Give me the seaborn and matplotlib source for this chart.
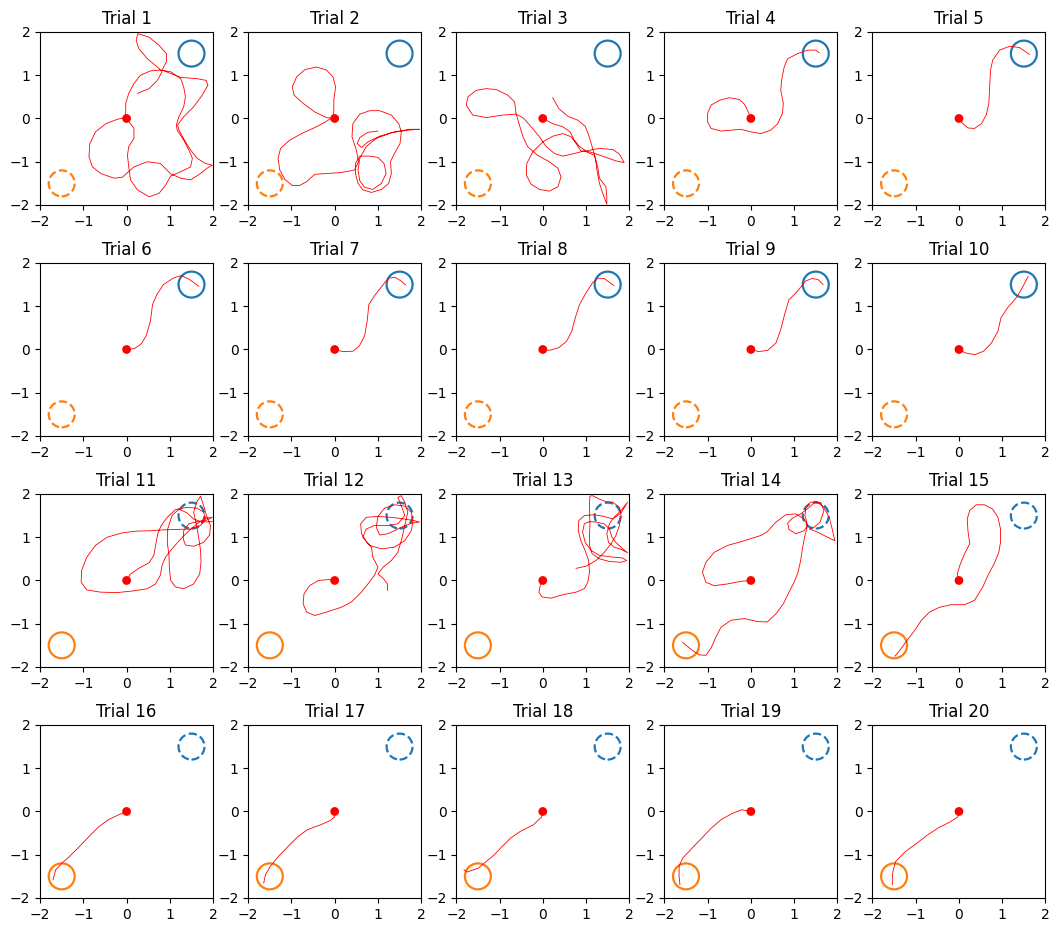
import numpy as np
import pandas as pd
import matplotlib
matplotlib.use("Agg")
import matplotlib.pyplot as plt
from matplotlib.patches import Circle
import seaborn as sns

# ---------------- data ----------------
trial_titles = [f"Trial {i}" for i in range(1, 21)]
start_point = (0.0, 0.0)
target_a = (1.5, 1.5)     # blue target
target_b = (-1.5, -1.5)   # orange target
target_radius = 0.3
# trials 1-10: blue target active (solid), 11-20: orange target active
active_target = ["a"] * 10 + ["b"] * 10

traj_01 = [(0, 0), (0.17, -0.23), (0.17, -0.46), (0.05, -0.65), (0.02, -0.85), (0.05, -1.12), (0.09, -1.42),
           (0.25, -1.65), (0.52, -1.81), (0.75, -1.73), (0.9, -1.54), (1.02, -1.33), (1.25, -1.23), (1.48, -1.12),
           (1.52, -0.92), (1.44, -0.73), (1.32, -0.5), (1.17, -0.27), (1.15, -0.15), (1.21, 0.04), (1.32, 0.27),
           (1.36, 0.5), (1.32, 0.73), (1.25, 0.92), (1.02, 1.08), (0.78, 1.12), (0.55, 1.1), (0.32, 1.0),
           (0.17, 0.81), (0.05, 0.58), (-0.02, 0.35), (-0.02, 0.15), (-0.05, 0.02), (-0.22, -0.02), (-0.48, -0.12),
           (-0.72, -0.31), (-0.85, -0.58), (-0.87, -0.88), (-0.79, -1.12), (-0.6, -1.27), (-0.29, -1.38),
           (-0.1, -1.36), (0.02, -1.25), (0.17, -1.12), (0.48, -1.0), (0.78, -1.04), (1.02, -1.28), (1.25, -1.38),
           (1.48, -1.42), (1.71, -1.27), (1.86, -1.15), (1.98, -1.08), (1.82, -1.04), (1.63, -0.92), (1.48, -0.73),
           (1.36, -0.54), (1.21, -0.27), (1.18, -0.15), (1.32, 0.04), (1.55, 0.27), (1.75, 0.54), (1.88, 0.77),
           (1.84, 0.88), (1.63, 0.92), (1.25, 0.95), (1.02, 1.04), (0.82, 1.12), (0.92, 1.31), (0.92, 1.5),
           (0.75, 1.69), (0.52, 1.88), (0.26, 1.96), (0.22, 1.81), (0.28, 1.62), (0.48, 1.38), (0.71, 1.19),
           (0.82, 1.08), (0.71, 0.88), (0.52, 0.69), (0.25, 0.58)]
traj_02 = [(0, 0), (-0.19, 0.02), (-0.46, 0.15), (-0.73, 0.35), (-0.94, 0.54), (-0.98, 0.73), (-0.88, 0.96),
           (-0.69, 1.13), (-0.42, 1.19), (-0.19, 1.12), (-0.04, 0.96), (0.02, 0.73), (-0.02, 0.42), (-0.02, 0.15),
           (-0.06, 0.02), (-0.23, -0.09), (-0.46, -0.21), (-0.73, -0.33), (-1.04, -0.5), (-1.25, -0.69),
           (-1.31, -0.92), (-1.27, -1.19), (-1.15, -1.41), (-0.98, -1.55), (-0.81, -1.55), (-0.65, -1.46),
           (-0.46, -1.29), (-0.15, -1.27), (0.15, -1.25), (0.46, -1.19), (0.55, -1.0), (0.5, -0.73), (0.4, -0.42),
           (0.42, -0.12), (0.58, 0.1), (0.81, 0.18), (1.04, 0.18), (1.31, 0.08), (1.48, -0.12), (1.54, -0.31),
           (1.51, -0.58), (1.38, -0.81), (1.29, -1.0), (1.31, -1.27), (1.25, -1.5), (1.08, -1.64), (0.85, -1.71),
           (0.65, -1.65), (0.54, -1.5), (0.48, -1.27), (0.48, -1.04), (0.58, -0.87), (0.81, -0.87), (1.0, -0.9),
           (1.14, -1.04), (1.19, -1.27), (1.08, -1.5), (0.88, -1.64), (0.69, -1.59), (0.58, -1.44), (0.54, -1.19),
           (0.58, -0.92), (0.73, -0.65), (0.96, -0.46), (1.31, -0.33), (1.69, -0.27), (1.96, -0.25), (1.73, -0.25),
           (1.38, -0.31), (1.04, -0.41), (0.77, -0.54), (0.62, -0.67), (0.52, -0.58), (0.58, -0.44), (0.77, -0.32),
           (1.0, -0.29)]
traj_03 = [(0, 0), (0.23, -0.12), (0.46, -0.19), (0.63, -0.31), (0.73, -0.5), (0.85, -0.65), (1.0, -0.75),
           (1.31, -0.69), (1.62, -0.72), (1.77, -0.82), (1.88, -1.02), (1.69, -0.98), (1.38, -0.87), (1.08, -0.77),
           (0.88, -0.75), (0.77, -0.58), (0.65, -0.42), (0.46, -0.35), (0.23, -0.41), (0, -0.54), (-0.23, -0.77),
           (-0.37, -1.04), (-0.38, -1.31), (-0.27, -1.52), (-0.08, -1.64), (0.15, -1.68), (0.35, -1.58),
           (0.42, -1.35), (0.35, -1.15), (0.15, -1.0), (-0.12, -0.85), (-0.35, -0.65), (-0.46, -0.42),
           (-0.54, -0.15), (-0.62, 0.12), (-0.65, 0.38), (-0.81, 0.54), (-1.08, 0.67), (-1.31, 0.69), (-1.54, 0.65),
           (-1.73, 0.5), (-1.77, 0.31), (-1.62, 0.08), (-1.31, 0.02), (-0.92, 0.08), (-0.62, 0.1), (-0.46, 0.02),
           (-0.27, -0.19), (-0.08, -0.42), (0.08, -0.65), (0.27, -0.81), (0.46, -0.87), (0.69, -0.82), (0.96, -0.75),
           (1.19, -0.85), (1.27, -1.12), (1.31, -1.38), (1.46, -1.58), (1.48, -1.81), (1.48, -1.98), (1.4, -1.77),
           (1.31, -1.5), (1.25, -1.19), (1.22, -0.92), (1.14, -0.65), (1.06, -0.38), (0.98, -0.18), (0.81, -0.04),
           (0.58, 0.05), (0.37, 0.23), (0.23, 0.48)]
traj_04 = [(0, 0), (-0.06, 0.15), (-0.15, 0.33), (-0.27, 0.44), (-0.5, 0.48), (-0.73, 0.42), (-0.92, 0.31),
           (-1.0, 0.12), (-1.0, -0.08), (-0.92, -0.23), (-0.69, -0.29), (-0.46, -0.27), (-0.23, -0.25), (0, -0.31),
           (0.23, -0.35), (0.46, -0.27), (0.62, -0.12), (0.73, 0.12), (0.75, 0.35), (0.69, 0.65), (0.71, 0.88),
           (0.77, 1.19), (0.85, 1.38), (1.08, 1.5), (1.31, 1.58), (1.5, 1.58), (1.58, 1.52)]
traj_05 = [(0, 0), (0.09, -0.12), (0.21, -0.22), (0.36, -0.23), (0.52, -0.12), (0.63, 0.08), (0.69, 0.35),
           (0.71, 0.73), (0.73, 1.12), (0.78, 1.35), (0.94, 1.58), (1.17, 1.67), (1.4, 1.64), (1.63, 1.48)]
traj_06 = [(0, 0), (0.18, 0.02), (0.33, 0.12), (0.45, 0.31), (0.55, 0.65), (0.6, 1.04), (0.7, 1.27), (0.85, 1.5),
           (1.08, 1.65), (1.26, 1.71), (1.45, 1.62), (1.67, 1.46)]
traj_07 = [(0, 0), (0.19, -0.05), (0.42, -0.04), (0.57, 0.08), (0.69, 0.31), (0.75, 0.65), (0.79, 1.04),
           (0.94, 1.27), (1.09, 1.46), (1.24, 1.65), (1.39, 1.67), (1.54, 1.58), (1.64, 1.49)]
traj_08 = [(0, 0), (0.15, -0.02), (0.37, 0.04), (0.55, 0.19), (0.67, 0.42), (0.75, 0.73), (0.85, 1.04),
           (1.0, 1.31), (1.15, 1.54), (1.27, 1.65), (1.42, 1.64), (1.64, 1.48)]
traj_09 = [(0, 0), (0.18, -0.05), (0.39, -0.02), (0.58, 0.15), (0.69, 0.46), (0.78, 0.81), (0.88, 1.15),
           (1.08, 1.35), (1.26, 1.58), (1.41, 1.64), (1.55, 1.62), (1.67, 1.5)]
traj_10 = [(0, 0), (0.15, -0.08), (0.37, -0.12), (0.57, -0.04), (0.75, 0.15), (0.9, 0.42), (0.97, 0.73),
           (1.12, 0.96), (1.32, 1.19), (1.46, 1.42), (1.6, 1.69)]
traj_11 = [(0, 0), (0.09, 0.15), (0.28, 0.28), (0.52, 0.41), (0.63, 0.58), (0.67, 0.81), (0.72, 1.08),
           (0.8, 1.27), (0.94, 1.46), (1.13, 1.64), (1.4, 1.69), (1.63, 1.67), (1.78, 1.58), (1.82, 1.42),
           (1.71, 1.27), (1.48, 1.19), (1.17, 1.18), (0.86, 1.17), (0.55, 1.15), (0.21, 1.14), (-0.1, 1.1),
           (-0.45, 1.0), (-0.72, 0.81), (-0.92, 0.54), (-1.04, 0.23), (-1.05, -0.04), (-0.92, -0.22), (-0.6, -0.27),
           (-0.22, -0.28), (0.17, -0.24), (0.48, -0.19), (0.67, -0.08), (0.78, 0.12), (0.82, 0.35), (0.9, 0.54),
           (1.05, 0.73), (1.25, 0.96), (1.44, 1.15), (1.63, 1.31), (1.82, 1.44), (1.98, 1.46), (1.82, 1.38),
           (1.63, 1.36), (1.44, 1.31), (1.32, 1.15), (1.31, 0.96), (1.36, 0.82), (1.55, 0.79), (1.78, 0.88),
           (1.92, 1.05), (1.94, 1.27), (1.86, 1.46), (1.78, 1.73), (1.71, 1.95), (1.62, 1.81), (1.55, 1.58),
           (1.62, 1.27), (1.67, 0.96), (1.71, 0.69), (1.72, 0.42), (1.69, 0.15), (1.55, -0.08), (1.32, -0.19),
           (1.13, -0.15), (1.02, 0), (0.99, 0.27), (0.98, 0.58), (0.94, 0.88), (0.95, 1.19), (1.05, 1.5),
           (1.21, 1.65), (1.4, 1.56), (1.55, 1.42), (1.75, 1.35), (1.98, 1.36)]
traj_12 = [(0, 0), (-0.15, 0.02), (-0.38, 0), (-0.58, -0.12), (-0.71, -0.31), (-0.73, -0.54), (-0.65, -0.73),
           (-0.46, -0.81), (-0.19, -0.73), (0.15, -0.62), (0.38, -0.5), (0.58, -0.31), (0.77, -0.08), (0.92, 0.12),
           (1.0, 0.31), (0.88, 0.54), (0.85, 0.77), (0.73, 0.9), (0.62, 1.08), (0.6, 1.31), (0.73, 1.46),
           (1.0, 1.48), (1.31, 1.46), (1.62, 1.42), (1.85, 1.38), (1.96, 1.35), (1.81, 1.33), (1.62, 1.27),
           (1.46, 1.19), (1.23, 1.08), (1.04, 1.05), (0.96, 1.23), (1.0, 1.48), (1.15, 1.67), (1.38, 1.75),
           (1.62, 1.72), (1.77, 1.58), (1.81, 1.38), (1.77, 1.15), (1.62, 0.92), (1.38, 0.77), (1.08, 0.73),
           (0.81, 0.81), (0.65, 1.0), (0.73, 1.19), (0.92, 1.27), (1.23, 1.27), (1.46, 1.31), (1.62, 1.5),
           (1.54, 1.73), (1.46, 1.92), (1.54, 1.96), (1.62, 1.81), (1.69, 1.58), (1.62, 1.27), (1.55, 0.96),
           (1.46, 0.65), (1.31, 0.46), (1.12, 0.31), (1.0, 0.15), (1.12, 0.05), (1.22, -0.08), (1.22, -0.23)]
traj_13 = [(0, 0), (-0.06, -0.12), (-0.09, -0.27), (-0.02, -0.38), (0.19, -0.41), (0.46, -0.33), (0.77, -0.27),
           (0.96, -0.19), (1.04, -0.04), (1.08, 0.19), (1.06, 0.46), (0.98, 0.69), (0.88, 0.92), (0.82, 1.15),
           (0.83, 1.38), (0.96, 1.5), (1.19, 1.52), (1.42, 1.48), (1.62, 1.42), (1.81, 1.56), (1.96, 1.81),
           (1.81, 1.62), (1.65, 1.46), (1.54, 1.31), (1.48, 1.08), (1.52, 0.88), (1.65, 0.77), (1.81, 0.72),
           (1.96, 0.64), (1.85, 0.73), (1.69, 0.88), (1.6, 1.0), (1.54, 1.19), (1.42, 1.31), (1.23, 1.35),
           (1.08, 1.36), (0.96, 1.31), (0.92, 1.12), (0.98, 0.88), (1.12, 0.69), (1.31, 0.58), (1.62, 0.54),
           (1.85, 0.52), (1.94, 0.46), (1.81, 0.42), (1.54, 0.44), (1.31, 0.5), (1.14, 0.62), (1.08, 0.81),
           (1.08, 1.04), (1.09, 1.31), (1.08, 1.58), (1.08, 1.77), (1.09, 1.95), (1.15, 1.96), (1.31, 1.88),
           (1.46, 1.82), (1.62, 1.81), (1.77, 1.69), (1.81, 1.5), (1.77, 1.27), (1.69, 1.04), (1.58, 0.85),
           (1.42, 0.65), (1.23, 0.46), (1.0, 0.33), (0.77, 0.28)]
traj_14 = [(0, 0), (-0.23, -0.02), (-0.54, -0.08), (-0.85, -0.12), (-1.04, -0.04), (-1.12, 0.19), (-1.04, 0.42),
           (-0.85, 0.65), (-0.54, 0.81), (-0.15, 0.92), (0.23, 1.04), (0.38, 1.13), (0.58, 1.35), (0.81, 1.52),
           (1.04, 1.54), (1.23, 1.42), (1.31, 1.27), (1.23, 1.15), (1.04, 1.08), (0.88, 1.18), (0.85, 1.33),
           (0.96, 1.44), (1.15, 1.54), (1.35, 1.69), (1.48, 1.82), (1.62, 1.79), (1.69, 1.62), (1.6, 1.35),
           (1.46, 1.23), (1.35, 1.19), (1.54, 1.12), (1.77, 1.0), (1.94, 0.92), (1.88, 1.19), (1.81, 1.46),
           (1.69, 1.69), (1.54, 1.82), (1.38, 1.81), (1.27, 1.69), (1.25, 1.5), (1.31, 1.27), (1.25, 1.04),
           (1.19, 0.73), (1.15, 0.46), (1.09, 0.19), (1.0, -0.04), (0.88, -0.27), (0.75, -0.54), (0.58, -0.77),
           (0.38, -0.96), (0.15, -0.95), (-0.15, -0.88), (-0.46, -0.92), (-0.69, -1.08), (-0.81, -1.31),
           (-0.92, -1.56), (-1.04, -1.73), (-1.19, -1.72), (-1.35, -1.62), (-1.58, -1.43)]
traj_15 = [(0, 0), (-0.04, 0.15), (0.02, 0.35), (0.13, 0.62), (0.25, 0.85), (0.21, 1.12), (0.19, 1.42),
           (0.25, 1.62), (0.4, 1.75), (0.59, 1.75), (0.78, 1.65), (0.9, 1.46), (0.96, 1.19), (0.96, 0.88),
           (0.92, 0.65), (0.81, 0.38), (0.67, 0.12), (0.55, -0.15), (0.36, -0.46), (0.13, -0.56), (-0.18, -0.56),
           (-0.45, -0.62), (-0.68, -0.73), (-0.87, -0.92), (-1.02, -1.15), (-1.22, -1.41), (-1.37, -1.62),
           (-1.48, -1.75)]
traj_16 = [(0, 0), (-0.19, -0.08), (-0.42, -0.19), (-0.64, -0.35), (-0.87, -0.58), (-1.09, -0.81), (-1.32, -1.04),
           (-1.49, -1.19), (-1.64, -1.35), (-1.7, -1.58)]
traj_17 = [(0, 0), (0, -0.12), (-0.1, -0.21), (-0.33, -0.31), (-0.63, -0.42), (-0.85, -0.58), (-1.08, -0.81),
           (-1.3, -1.04), (-1.49, -1.27), (-1.6, -1.46), (-1.64, -1.65)]
traj_18 = [(0, 0), (-0.03, -0.13), (-0.22, -0.31), (-0.52, -0.46), (-0.75, -0.62), (-0.94, -0.81), (-1.12, -1.0),
           (-1.3, -1.15), (-1.49, -1.31), (-1.75, -1.4), (-1.82, -1.35)]
traj_19 = [(0, 0), (-0.21, 0.04), (-0.42, -0.04), (-0.69, -0.19), (-0.91, -0.38), (-1.14, -0.62), (-1.36, -0.85),
           (-1.58, -1.08), (-1.66, -1.27), (-1.66, -1.5), (-1.64, -1.69)]
traj_20 = [(0, 0), (-0.03, -0.13), (-0.22, -0.25), (-0.48, -0.38), (-0.72, -0.54), (-0.97, -0.73), (-1.23, -0.92),
           (-1.46, -1.15), (-1.52, -1.35), (-1.54, -1.5), (-1.54, -1.69)]

trajectories = [traj_01, traj_02, traj_03, traj_04, traj_05, traj_06, traj_07, traj_08, traj_09, traj_10,
                traj_11, traj_12, traj_13, traj_14, traj_15, traj_16, traj_17, traj_18, traj_19, traj_20]
ticks = [-2, -1, 0, 1, 2]

# ---------------- drawing ----------------
blue = sns.color_palette("tab10")[0]
orange = sns.color_palette("tab10")[1]

fig, axes = plt.subplots(4, 5, figsize=(10.62, 9.32), dpi=100)
fig.subplots_adjust(left=0.0377, right=0.9845, top=0.9657, bottom=0.0365, wspace=0.202, hspace=0.335)

for i, ax in enumerate(axes.flat):
    df = pd.DataFrame(trajectories[i], columns=["x", "y"])
    df["step"] = np.arange(len(df))
    sns.lineplot(data=df, x="x", y="y", sort=False, estimator=None, color="red",
                 linewidth=0.6, ax=ax, solid_joinstyle="round")
    sns.scatterplot(x=[start_point[0]], y=[start_point[1]], color="red", s=40,
                    edgecolor="none", ax=ax, zorder=5)
    a_style = "-" if active_target[i] == "a" else "--"
    b_style = "-" if active_target[i] == "b" else "--"
    ax.add_patch(Circle(target_a, target_radius, fill=False, edgecolor=blue, lw=1.6, ls=a_style))
    ax.add_patch(Circle(target_b, target_radius, fill=False, edgecolor=orange, lw=1.6, ls=b_style))
    ax.set_xlim(-2, 2)
    ax.set_ylim(-2, 2)
    ax.set_xticks(ticks)
    ax.set_yticks(ticks)
    ax.set_aspect("equal")
    ax.set_xlabel("")
    ax.set_ylabel("")
    ax.set_title(trial_titles[i])

fig.savefig("out.png", dpi=100)
